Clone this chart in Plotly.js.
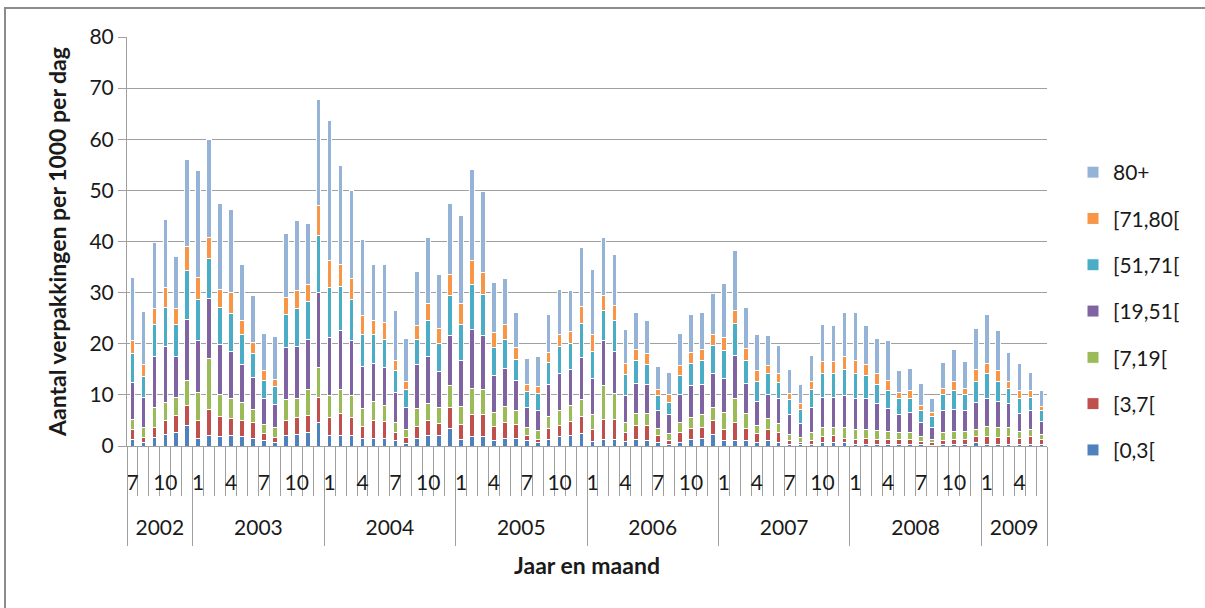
<!DOCTYPE html>
<html><head><meta charset="utf-8">
<script src="https://cdn.plot.ly/plotly-3.0.1.min.js"></script>
<style>html,body{margin:0;padding:0;background:#fff}#chart{width:1205px;height:608px}</style>
</head><body><div id="chart"></div>
<script>
// ---- data ----
const yearLabels = ['2002','2003','2004','2005','2006','2007','2008','2009'];
const firstMonth = 7;   // first month of 2002 shown
const lastMonth = 6;    // last month of 2009 shown
const labelledMonths = [1, 4, 7, 10];

const seriesNames = ['[0,3[', '[3,7[', '[7,19[', '[19,51[', '[51,71[', '[71,80[', '80+'];
const seriesColors = ['#4F81BD', '#C0504D', '#9BBB59', '#8064A2', '#4BACC6', '#F79646', '#95B3D7'];

const age0_3 = [
  1.3,0.7,1.6,2.3,2.6,4.1,
  1.5,2.0,1.8,2.0,1.8,1.5,1.0,0.7,2.0,2.2,2.6,4.6,
  2.0,2.0,2.0,1.5,1.5,1.5,1.1,0.5,1.5,2.0,2.0,3.5,
  1.3,1.8,1.8,1.1,1.5,1.5,1.0,0.7,1.3,1.8,2.0,2.4,
  0.8,1.3,1.3,0.8,1.3,1.1,0.7,0.3,0.7,1.3,1.5,2.2,
  1.0,1.1,1.0,0.7,1.0,0.7,0.3,0.2,0.3,0.7,0.7,0.7,
  0.3,0.3,0.3,0.3,0.3,0.3,0.2,0.1,0.2,0.3,0.3,0.7,
  0.3,0.3,0.3,0.3,0.3,0.3];
const age3_7 = [
  2.0,0.9,2.0,2.6,3.3,3.9,
  3.4,5.2,3.9,3.4,3.1,3.1,1.4,0.9,2.9,3.4,3.3,4.9,
  3.6,4.3,3.6,2.4,3.5,3.3,1.6,1.1,2.4,2.9,2.4,4.0,
  2.9,4.3,4.3,2.8,3.1,2.7,1.1,0.6,2.2,2.3,2.8,3.3,
  2.5,3.9,3.9,1.8,2.8,3.0,1.3,0.8,1.9,2.1,2.2,2.8,
  2.3,3.5,2.5,1.7,2.3,2.0,0.8,0.5,0.8,1.1,1.3,0.8,
  1.0,1.2,1.0,1.0,1.0,1.0,0.6,0.5,0.9,1.0,1.0,1.1,
  1.5,1.3,1.5,1.2,1.5,1.0];
const age7_19 = [
  1.9,2.0,3.9,3.6,3.6,4.9,
  5.6,9.9,4.4,3.8,3.6,2.6,1.8,2.0,4.1,3.6,5.2,5.9,
  4.2,4.8,4.2,3.5,3.7,3.2,1.9,1.7,3.5,3.4,3.1,4.3,
  3.6,5.2,5.0,2.6,3.2,2.8,1.5,1.8,2.2,2.8,3.2,3.3,
  2.8,6.7,5.1,2.0,2.2,2.2,1.5,1.3,2.0,2.2,2.4,2.5,
  3.2,4.6,2.8,1.7,2.1,1.7,1.1,0.9,1.5,1.8,1.7,2.1,
  2.0,1.8,1.8,1.6,1.4,1.4,1.0,0.7,1.5,1.5,1.6,1.5,
  2.1,2.1,1.9,1.4,1.5,1.0];
const age19_51 = [
  7.2,5.9,10.1,10.9,8.1,11.9,
  10.1,11.7,9.7,9.3,7.5,6.2,5.0,4.6,10.3,10.2,9.8,14.7,
  11.4,11.4,10.8,8.1,7.4,7.4,5.9,4.3,8.5,9.2,7.1,9.8,
  8.9,11.4,10.5,7.2,7.4,5.9,4.0,3.9,6.4,7.2,7.0,8.3,
  7.2,8.8,8.2,5.2,5.9,5.7,3.5,3.7,5.5,6.2,6.0,6.7,
  6.8,8.6,5.9,4.6,4.7,4.8,4.0,2.8,4.9,5.9,5.8,6.2,
  6.0,6.0,5.2,4.5,3.5,3.8,2.8,2.3,4.4,4.4,4.0,5.2,
  5.4,5.0,4.6,3.4,3.6,2.5];
const age51_71 = [
  5.6,4.0,6.1,7.7,6.1,9.5,
  8.0,7.8,7.2,7.4,5.8,4.6,3.7,3.4,6.5,7.4,7.4,11.1,
  9.8,8.7,8.0,6.3,5.7,5.5,4.2,3.5,5.0,7.0,5.5,7.8,
  7.0,8.9,8.1,5.6,5.7,4.1,3.1,3.3,4.2,5.3,5.1,6.6,
  5.2,5.8,6.0,4.1,4.5,4.0,2.8,2.4,3.6,4.3,4.6,5.4,
  5.3,6.1,4.5,4.0,4.0,3.2,2.8,2.8,3.6,4.6,4.6,5.2,
  4.8,4.4,3.8,3.5,3.0,2.8,2.3,2.1,3.1,3.7,3.2,4.2,
  4.8,4.0,3.0,3.0,2.6,2.1];
const age71_80 = [
  2.6,2.5,3.1,3.9,3.1,4.7,
  4.3,4.2,3.7,4.2,2.8,2.3,1.8,1.5,3.3,3.6,3.3,5.9,
  5.3,4.4,4.1,3.7,2.8,3.3,2.1,1.5,2.6,3.3,2.9,4.1,
  4.1,4.7,4.3,2.9,2.8,2.3,1.3,1.3,2.0,2.4,2.3,3.4,
  3.3,2.9,3.0,2.2,2.1,2.1,1.3,1.5,2.0,2.2,2.1,2.3,
  2.6,2.6,2.3,2.1,1.6,1.7,1.3,1.1,1.5,2.4,2.4,2.6,
  2.6,2.2,2.0,2.0,1.3,1.5,1.1,0.8,1.2,1.8,1.2,2.3,
  2.0,2.0,1.4,1.6,1.3,0.9];
const age80plus = [
  12.3,10.3,13.1,13.4,10.3,17.1,
  21.0,19.2,16.8,16.1,11.0,9.1,7.3,8.3,12.5,13.8,12.0,20.7,
  27.3,19.3,17.3,14.8,10.9,11.3,9.7,8.5,10.7,13.0,10.5,14.0,
  17.2,17.8,15.8,9.7,9.0,6.8,5.2,5.9,7.5,8.9,8.0,11.6,
  12.7,11.4,10.0,6.6,7.3,6.4,4.4,4.4,6.3,7.5,7.3,8.0,
  10.5,11.7,8.0,7.0,5.9,5.5,4.7,3.7,5.1,7.2,7.0,8.5,
  9.4,7.6,7.0,7.7,4.3,4.4,4.2,2.8,5.0,6.1,5.2,7.9,
  9.6,7.8,5.6,5.2,3.6,3.1];

const seriesValues = [age0_3, age3_7, age7_19, age19_51, age51_71, age71_80, age80plus];

// ---- categories (year-month) ----
const categories = [], catMonth = [], yearStart = [], yearEnd = [];
yearLabels.forEach((yr, yi) => {
  const m0 = yi === 0 ? firstMonth : 1;
  const m1 = yi === yearLabels.length - 1 ? lastMonth : 12;
  yearStart.push(categories.length);
  for (let m = m0; m <= m1; m++) { categories.push(yr + '-' + m); catMonth.push(m); }
  yearEnd.push(categories.length - 1);
});

const monthTickVals = [], monthTickText = [];
catMonth.forEach((m, i) => { if (labelledMonths.includes(m)) { monthTickVals.push(i); monthTickText.push(String(m)); } });
const yearTickVals = yearStart.map((s, i) => (s + yearEnd[i]) / 2);
const yearBounds = yearStart.map(s => s - 0.5).concat([categories.length - 0.5]);

const xr = [-0.5, categories.length - 0.5];
const FONT = 'Lato, "Liberation Sans", sans-serif';
const TXT = '#1a1a1a';
const GRID = '#a0a0a0';

const traces = seriesNames.map((name, i) => ({
  type: 'bar', name: name, x: categories, y: seriesValues[i],
  width: 0.42, legendgroup: 'g' + i, legendrank: 100 - i,
  marker: { color: seriesColors[i], line: { color: '#ffffff', width: 1 } },
  hoverinfo: 'skip'
}));
['x2', 'x3', 'x4'].forEach(ax => traces.push({ type: 'scatter', x: [], y: [], xaxis: ax, showlegend: false, hoverinfo: 'skip' }));

const W = 1205, H = 608, L = 127, R = 158, T = 37, B = 162;
const pw = W - L - R, ph = H - T - B;
const px = v => (v - L) / pw, py = v => (H - B - v) / ph;

const layout = {
  width: W, height: H,
  margin: { l: L, r: R, t: T, b: B },
  paper_bgcolor: '#ffffff', plot_bgcolor: '#ffffff',
  font: { family: FONT, size: 21, color: TXT },
  barmode: 'stack', showlegend: true, hovermode: false,
  xaxis: {
    type: 'category', categoryorder: 'array', categoryarray: categories, range: xr,
    showgrid: false, showline: true, linecolor: GRID, linewidth: 1,
    ticks: 'outside', tickson: 'boundaries', ticklen: 49, tickcolor: GRID, tickwidth: 1,
    tickmode: 'linear', tick0: 0, dtick: 1, showticklabels: false, zeroline: false, fixedrange: true
  },
  xaxis2: {
    overlaying: 'x', anchor: 'y', side: 'bottom', type: 'linear', range: xr,
    tickmode: 'array', tickvals: monthTickVals, ticktext: monthTickText,
    ticks: '', showgrid: false, showline: false, zeroline: false,
    ticklabelstandoff: 22, tickfont: { family: FONT, size: 21, color: TXT }
  },
  xaxis3: {
    overlaying: 'x', anchor: 'y', side: 'bottom', type: 'linear', range: xr,
    tickmode: 'array', tickvals: yearBounds, ticks: 'outside', ticklen: 99, tickcolor: GRID, tickwidth: 1,
    showticklabels: false, showgrid: false, showline: false, zeroline: false
  },
  xaxis4: {
    overlaying: 'x', anchor: 'y', side: 'bottom', type: 'linear', range: xr,
    tickmode: 'array', tickvals: yearTickVals, ticktext: yearLabels,
    ticks: '', showgrid: false, showline: false, zeroline: false,
    ticklabelstandoff: 67, tickfont: { family: FONT, size: 21, color: TXT },
    title: { text: '<b>Jaar en maand</b>', standoff: 19, font: { family: FONT, size: 23, color: TXT } }
  },
  yaxis: {
    range: [0, 80], dtick: 10, tick0: 0, showgrid: true, gridcolor: GRID, gridwidth: 1,
    showline: true, linecolor: GRID, linewidth: 1, ticks: 'outside', ticklen: 8, tickcolor: GRID,
    zeroline: false, tickfont: { family: FONT, size: 21, color: TXT },
    title: { text: '<b>Aantal verpakkingen per 1000 per dag</b>', standoff: 16, font: { family: FONT, size: 23, color: TXT } },
    automargin: false, fixedrange: true
  },
  legend: {
    x: px(1073), xanchor: 'left', y: py(152), yanchor: 'top',
    traceorder: 'grouped', tracegroupgap: 16,
    font: { family: FONT, size: 21, color: TXT }, bgcolor: 'rgba(0,0,0,0)'
  },
  shapes: [{
    type: 'rect', xref: 'paper', yref: 'paper', layer: 'below',
    x0: px(5), x1: px(1230), y0: py(630), y1: py(8),
    line: { color: '#8c8c8c', width: 2 }, fillcolor: 'rgba(0,0,0,0)'
  }]
};

Plotly.newPlot('chart', traces, layout, { staticPlot: true, displayModeBar: false });
</script></body></html>
